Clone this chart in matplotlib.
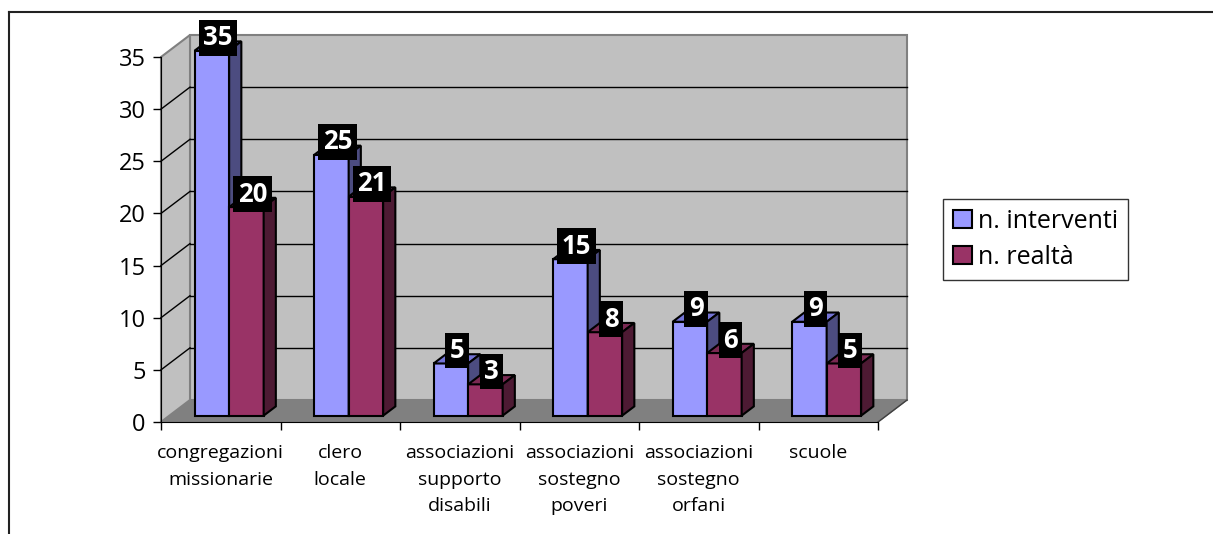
import matplotlib
matplotlib.use('Agg')
import matplotlib.pyplot as plt
from matplotlib.patches import Polygon, Patch
from matplotlib.lines import Line2D

# dati
categorie = ['congregazioni\nmissionarie', 'clero\nlocale', 'associazioni\nsupporto\ndisabili',
             'associazioni\nsostegno\npoveri', 'associazioni\nsostegno\norfani', 'scuole']
interventi = [35, 25, 5, 15, 9, 9]
realta = [20, 21, 3, 8, 6, 5]
serie_nomi = ['n. interventi', 'n. realtà']

plt.rcParams['font.family'] = ['Open Sans', 'DejaVu Sans']

W, H = 1213, 534
fig = plt.figure(figsize=(W / 100, H / 100), dpi=100)
ax = fig.add_axes([0, 0, 1, 1])

# geometria in pixel (asse x: 6 categorie, asse y: 0-35)
X0, CW = 161, 119.5
Y0, UH = 422, 365 / 35
ax.set_xlim(-X0 / CW, (W - X0) / CW)
ax.set_ylim((Y0 - H) / UH, Y0 / UH)

n = len(categorie)
YMAX = 35
DX, DY = 29 / CW, 22 / UH       # profondità del pavimento
f0, f1 = 0.29, 0.71             # posizione delle barre nella profondità
fx, fy = f0 * DX, f0 * DY
bx, by = f1 * DX, f1 * DY
BW = 34.5 / CW
GAP = (1 - 2 * BW) / 2

# pareti e pavimento
wall = '#C0C0C0'
ax.add_patch(Polygon([(0, 0), (n, 0), (n + DX, DY), (DX, DY)], closed=True,
                     fc='#808080', ec='#808080', lw=1, zorder=1))
ax.add_patch(Polygon([(DX, DY), (n + DX, DY), (n + DX, YMAX + DY), (DX, YMAX + DY)], closed=True,
                     fc=wall, ec='#808080', lw=1.5, zorder=1))
ax.add_patch(Polygon([(0, 0), (DX, DY), (DX, YMAX + DY), (0, YMAX)], closed=True,
                     fc=wall, ec='#808080', lw=1.5, zorder=1))
ax.plot([n, n + DX], [0, DY], color='#404040', lw=1, zorder=1.5)
for v in range(5, YMAX, 5):
    ax.plot([DX, n + DX], [v + DY, v + DY], color='black', lw=1, zorder=1.5)
    ax.plot([0, DX], [v, v + DY], color='black', lw=1, zorder=1.5)

# barre 3D
colori = [('#9999FF', '#7373D6', '#4C4C80'), ('#993366', '#7A2952', '#4D1A33')]
for s, valori in enumerate([interventi, realta]):
    front, top, side = colori[s]
    z = 3 + s
    xl = [i + GAP + s * BW for i in range(n)]
    ax.bar([x + fx for x in xl], valori, bottom=fy, width=BW, align='edge',
           color=front, edgecolor='black', linewidth=1.5, zorder=z)
    for x, v in zip(xl, valori):
        ax.add_patch(Polygon([(x + fx, v + fy), (x + BW + fx, v + fy),
                              (x + BW + bx, v + by), (x + bx, v + by)], closed=True,
                             fc=top, ec='black', lw=1.5, zorder=z))
        ax.add_patch(Polygon([(x + BW + fx, fy), (x + BW + bx, by),
                              (x + BW + bx, v + by), (x + BW + fx, v + fy)], closed=True,
                             fc=side, ec='black', lw=1.5, zorder=z))
        ax.annotate(str(v), (x + BW / 2 + (fx + bx) / 2, v + (fy + by) / 2),
                    xytext=(0, 6), textcoords='offset points', ha='center', va='center',
                    fontsize=18.5, fontweight='bold', color='white', zorder=10,
                    bbox=dict(boxstyle='square,pad=0.17', fc='black', ec='none'))

# assi
for sp in ['top', 'right']:
    ax.spines[sp].set_visible(False)
ax.spines['left'].set_position(('data', 0))
ax.spines['left'].set_bounds(0, YMAX)
ax.spines['bottom'].set_position(('data', 0))
ax.spines['bottom'].set_bounds(0, n)
ax.spines['left'].set_zorder(2)
ax.spines['bottom'].set_zorder(2)
ax.set_yticks(range(0, YMAX + 1, 5))
ax.tick_params(axis='y', direction='out', length=6, width=1, pad=5, labelsize=17)
ax.set_xticks(range(n + 1))
ax.set_xticklabels([])
ax.set_xticks([i + 0.5 for i in range(n)], minor=True)
ax.set_xticklabels(categorie, minor=True, fontsize=14, linespacing=1.6)
ax.tick_params(axis='x', which='major', direction='out', length=6, width=1)
ax.tick_params(axis='x', which='minor', length=0, pad=16)

# legenda
handles = [Patch(fc=colori[0][0], ec='black', lw=1.5), Patch(fc=colori[1][0], ec='black', lw=1.5)]
fig.legend(handles, serie_nomi, loc='upper left', bbox_to_anchor=(943 / W, 1 - 199 / H),
           borderaxespad=0, fontsize=18, frameon=True, fancybox=False, edgecolor='black',
           handlelength=0.75, handleheight=0.75, handletextpad=0.25, labelspacing=0.42,
           borderpad=0.4)
fig.legends[0].get_frame().set_linewidth(1)

# cornice del grafico
fig.add_artist(Line2D([9 / W, 9 / W], [0, 1 - 12 / H], color='#222222', lw=1.5))
fig.add_artist(Line2D([9 / W, 1], [1 - 12 / H, 1 - 12 / H], color='#222222', lw=1.5))

fig.savefig('out.png', dpi=100)
